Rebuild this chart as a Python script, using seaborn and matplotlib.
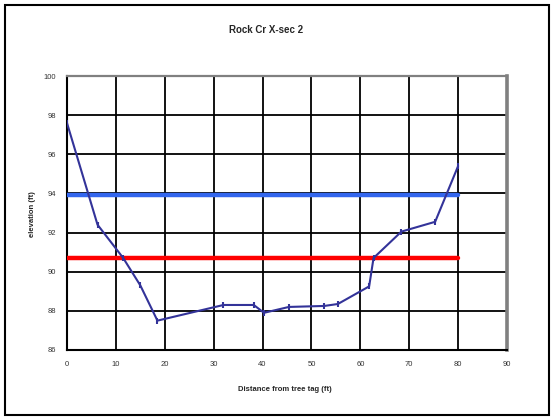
import numpy as np
import pandas as pd
import matplotlib
matplotlib.use("Agg")
import matplotlib.pyplot as plt
import seaborn as sns
from matplotlib.patches import Rectangle

# surveyed cross-section points
distance = [0, 6.25, 11.5, 15.0, 18.5, 32.0, 38.2, 40.3, 45.4, 52.6, 55.4, 61.8, 62.7, 68.4, 75.3, 80.0]
elevation = [97.6, 92.4, 90.7, 89.3, 87.5, 88.3, 88.3, 87.9, 88.2, 88.25, 88.35, 89.25, 90.7, 92.05, 92.55, 95.4]

# reference water levels
level_x = [0, 80]
blue_level = [93.9, 93.9]
red_level = [90.7, 90.7]

x_ticks = [0, 10, 20, 30, 40, 50, 60, 70, 80, 90]
y_ticks = [86, 88, 90, 92, 94, 96, 98, 100]

sns.set_style("white")
plt.rcParams["font.family"] = ["Liberation Sans", "DejaVu Sans"]

fig = plt.figure(figsize=(5.54, 4.19), dpi=100)
ax = fig.add_axes([0.1209, 0.1647, 0.9152 - 0.1209, 0.8186 - 0.1647])

df = pd.DataFrame({"distance": distance, "elevation": elevation})
sns.lineplot(data=df, x="distance", y="elevation", ax=ax, color="#333399",
             linewidth=1.5, marker="|", markersize=5, markeredgewidth=1.5,
             markeredgecolor="#333399", zorder=4, sort=False)
sns.lineplot(x=level_x, y=blue_level, ax=ax, color="#3366EE", linewidth=3.2, zorder=3)
sns.lineplot(x=level_x, y=red_level, ax=ax, color="#FF0000", linewidth=3.2, zorder=3)

ax.set_xlim(0, 90)
ax.set_ylim(86, 100)
ax.set_xticks(x_ticks)
ax.set_yticks(y_ticks)
ax.set_xticklabels([str(t) for t in x_ticks], fontsize=5.5, color="#333333")
ax.set_yticklabels([str(t) for t in y_ticks], fontsize=5.5, color="#333333")
ax.tick_params(axis="both", length=2, width=1, color="black", pad=6)
ax.grid(True, color="black", linewidth=1.3, zorder=1)
ax.set_axisbelow(True)
ax.set_xlabel("")
ax.set_ylabel("")

ax.spines["top"].set_color("#808080")
ax.spines["top"].set_linewidth(1.6)
ax.spines["right"].set_color("#808080")
ax.spines["right"].set_linewidth(2.6)
for side in ["left", "bottom"]:
    ax.spines[side].set_color("black")
    ax.spines[side].set_linewidth(1.5)

fig.text(0.48, 0.928, "Rock Cr X-sec 2", ha="center", va="center",
         fontsize=7, fontweight="bold")
fig.text(0.515, 0.071, "Distance from tree tag (ft)", ha="center", va="center",
         fontsize=5.5, fontweight="bold")
fig.text(0.058, 0.49, "elevation (ft)", ha="center", va="center",
         rotation=90, fontsize=5.5, fontweight="bold")

fig.patches.append(Rectangle((5 / 554, 4 / 419), 544 / 554, 410 / 419,
                             transform=fig.transFigure, fill=False,
                             edgecolor="black", linewidth=1.5))

fig.savefig("out.png", dpi=100)
